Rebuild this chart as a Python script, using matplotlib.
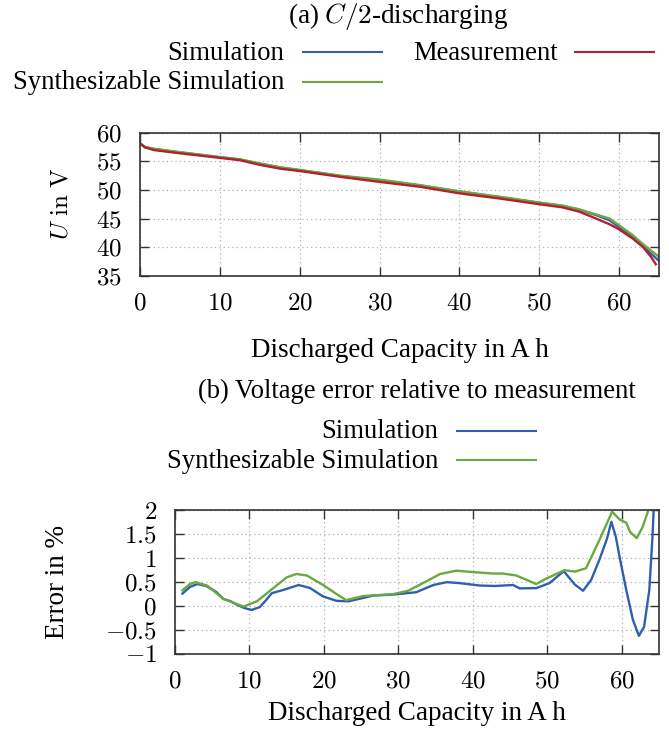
import matplotlib
matplotlib.use("Agg")
import matplotlib.pyplot as plt
from matplotlib.lines import Line2D

plt.rcParams['font.family'] = ['Liberation Serif', 'DejaVu Serif']
plt.rcParams['mathtext.fontset'] = 'cm'

BLUE = '#2f5fad'
RED = '#b5202e'
GREEN = '#6aa842'

# (a) terminal voltage over discharged capacity
cap_meas = [0, 0.6, 1.7, 5, 10, 12.5, 15.1, 17.6, 20, 25, 30, 35, 40, 45, 50,
            52.9, 55, 57.1, 58.8, 60, 61.7, 63, 64, 64.6]
u_meas = [58.15, 57.45, 56.97, 56.4, 55.6, 55.2, 54.35, 53.7, 53.3, 52.3, 51.4,
          50.56, 49.4, 48.5, 47.5, 46.95, 46.2, 45.0, 44.0, 43.1, 41.5, 40.0,
          38.3, 37.0]

cap_sim = [0, 0.6, 1.7, 5, 10, 12.5, 15.1, 17.6, 20, 25, 30, 35, 40, 45, 50,
           52.9, 55, 57.1, 58.8, 60, 61.7, 63, 65]
u_sim = [58.1, 57.5, 57.15, 56.55, 55.7, 55.3, 54.55, 53.9, 53.45, 52.45, 51.7,
         50.8, 49.7, 48.75, 47.75, 47.2, 46.55, 45.6, 44.7, 43.5, 41.8, 40.1, 37.6]

cap_syn = [0, 0.6, 1.7, 5, 10, 12.5, 15.1, 17.6, 20, 25, 30, 35, 40, 45, 50,
           52.9, 55, 57.1, 58.8, 60, 61.7, 63, 65]
u_syn = [58.1, 57.55, 57.2, 56.6, 55.75, 55.35, 54.6, 53.95, 53.5, 52.5, 51.8,
         50.85, 49.75, 48.8, 47.8, 47.25, 46.6, 45.7, 45.0, 43.8, 42.1, 40.5, 38.3]

# (b) relative voltage error
err_cap_sim = [1.0, 2.0, 3.0, 4.2, 5.5, 6.5, 7.5, 8.3, 9.3, 10.3, 11.4, 12.2, 13.0,
               14.6, 16.6, 18.1, 19.9, 21.7, 23.3, 25.0, 26.6, 29.3, 32.4, 34.7,
               36.5, 38.2, 40.9, 43.0, 45.4, 46.3, 48.5, 50.3, 52.2, 53.7, 54.8,
               55.9, 57.0, 58.0, 58.6, 59.2, 59.7, 60.6, 61.5, 62.3, 63.0, 63.7,
               64.1, 64.3]
err_sim = [0.26, 0.40, 0.46, 0.42, 0.30, 0.15, 0.10, 0.03, -0.04, -0.08, -0.02,
           0.12, 0.27, 0.34, 0.44, 0.38, 0.20, 0.11, 0.10, 0.16, 0.22, 0.24, 0.29,
           0.44, 0.50, 0.48, 0.43, 0.42, 0.44, 0.37, 0.375, 0.48, 0.73, 0.45, 0.32,
           0.55, 0.97, 1.40, 1.76, 1.45, 1.03, 0.34, -0.29, -0.62, -0.43, 0.34,
           1.38, 2.05]

err_cap_syn = [1.0, 2.0, 2.7, 4.3, 6.5, 9.2, 11.0, 13.0, 15.0, 16.3, 17.7, 19.9,
               21.7, 23.0, 25.3, 29.3, 31.3, 33.3, 35.6, 37.8, 40.0, 42.7, 44.0,
               45.8, 47.2, 48.5, 49.8, 52.3, 53.7, 55.2, 57.0, 58.7, 59.7, 60.6,
               61.1, 62.0, 62.8, 63.5, 63.7]
err_syn = [0.33, 0.46, 0.50, 0.43, 0.15, -0.01, 0.10, 0.35, 0.60, 0.67, 0.64,
           0.44, 0.25, 0.125, 0.21, 0.25, 0.32, 0.48, 0.67, 0.74, 0.71, 0.68, 0.68,
           0.64, 0.55, 0.46, 0.57, 0.75, 0.72, 0.79, 1.38, 1.97, 1.81, 1.74, 1.55,
           1.42, 1.65, 1.97, 2.1]

W, H = 669, 742
fig = plt.figure(figsize=(W / 100, H / 100), dpi=100)


def fx(x):
    return x / W


def fy(y):
    return 1 - y / H


def style_axes(ax, xticks, yticks, ylabels):
    ax.set_xticks(xticks)
    ax.set_xticklabels(['$%d$' % t for t in xticks])
    ax.set_yticks(yticks)
    ax.set_yticklabels(ylabels)
    ax.tick_params(direction='in', length=6.5, width=1.0, top=True, right=True,
                   labelsize=18, color='#333333', pad=12)
    ax.tick_params(axis='y', pad=13)
    for s in ax.spines.values():
        s.set_color('#333333')
        s.set_linewidth(1.2)
    ax.grid(True, linestyle=(0, (1, 2.5)), color='#b0b0b0', linewidth=0.9)
    ax.set_axisbelow(True)


# top panel
ax1 = fig.add_axes([fx(140), fy(275.7), fx(659 - 140), (275.7 - 132.7) / H])
ax1.plot(cap_sim, u_sim, color=BLUE, lw=1.7)
ax1.plot(cap_syn, u_syn, color=GREEN, lw=1.7)
ax1.plot(cap_meas, u_meas, color=RED, lw=1.7)
ax1.set_xlim(0, 65)
ax1.set_ylim(35, 60)
style_axes(ax1, [0, 10, 20, 30, 40, 50, 60], [35, 40, 45, 50, 55, 60],
           ['$%d$' % v for v in [35, 40, 45, 50, 55, 60]])

# bottom panel
ax2 = fig.add_axes([fx(175), fy(654), fx(659 - 175), (654 - 510.3) / H])
ax2.plot(err_cap_sim, err_sim, color=BLUE, lw=1.7)
ax2.plot(err_cap_syn, err_syn, color=GREEN, lw=1.7)
ax2.set_xlim(0, 65)
ax2.set_ylim(-1, 2)
style_axes(ax2, [0, 10, 20, 30, 40, 50, 60], [-1, -0.5, 0, 0.5, 1, 1.5, 2],
           ['$-1$', '$-0.5$', '$0$', '$0.5$', '$1$', '$1.5$', '$2$'])

# axis labels
fig.text(fx(399.5), fy(356.7), 'Discharged Capacity in A\u2009h', ha='center',
         va='baseline', fontsize=19.5)
fig.text(fx(417), fy(720), 'Discharged Capacity in A\u2009h', ha='center',
         va='baseline', fontsize=19.5)
fig.text(fx(61), fy(204), r'$U\ \mathrm{in}\ \mathrm{V}$', rotation=90,
         ha='center', va='center', fontsize=18)
fig.text(fx(58), fy(582), 'Error in %', rotation=90, ha='center', va='center',
         fontsize=19.5)

# key of panel (a)
fig.text(fx(398), fy(23.5), '(a) $C/2$-discharging', ha='center', va='baseline',
         fontsize=19.5)
fig.text(fx(284), fy(60), 'Simulation', ha='right', va='baseline', fontsize=19.2)
fig.text(fx(284), fy(89.3), 'Synthesizable Simulation', ha='right',
         va='baseline', fontsize=19.2)
fig.text(fx(557.7), fy(60), 'Measurement', ha='right', va='baseline',
         fontsize=19.2)
fig.add_artist(Line2D([fx(303), fx(382)], [fy(52.3), fy(52.3)], color=BLUE, lw=1.5))
fig.add_artist(Line2D([fx(303), fx(382)], [fy(81.7), fy(81.7)], color=GREEN, lw=1.5))
fig.add_artist(Line2D([fx(575), fx(654)], [fy(52.3), fy(52.3)], color=RED, lw=1.5))

# key of panel (b)
fig.text(fx(417), fy(398), '(b) Voltage error relative to measurement',
         ha='center', va='baseline', fontsize=19.2)
fig.text(fx(438), fy(438.3), 'Simulation', ha='right', va='baseline',
         fontsize=19.2)
fig.text(fx(438), fy(467.6), 'Synthesizable Simulation', ha='right',
         va='baseline', fontsize=19.2)
fig.add_artist(Line2D([fx(457), fx(536)], [fy(430.7), fy(430.7)], color=BLUE, lw=1.5))
fig.add_artist(Line2D([fx(457), fx(536)], [fy(460), fy(460)], color=GREEN, lw=1.5))

fig.savefig('out.png', dpi=100)
